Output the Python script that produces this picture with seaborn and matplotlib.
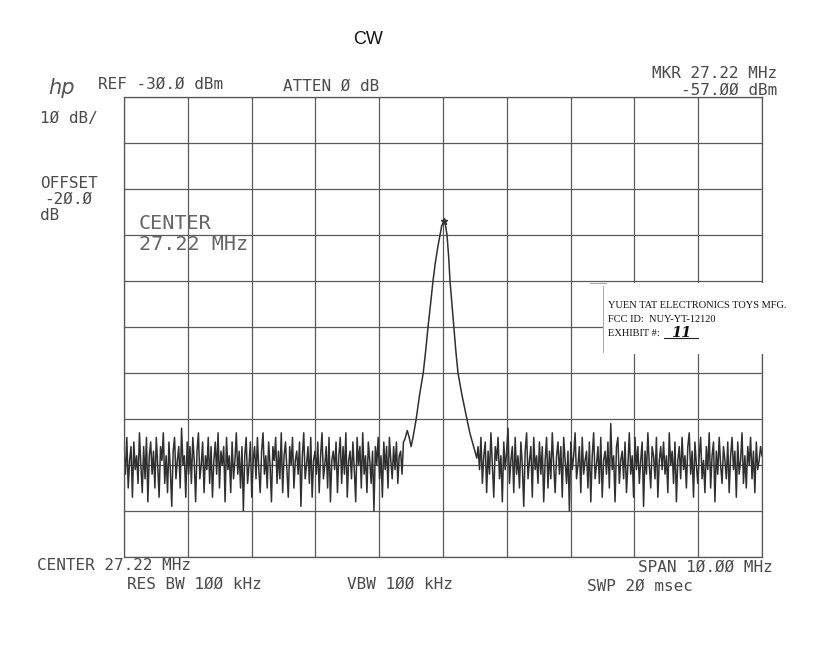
import numpy as np
import pandas as pd
import matplotlib
matplotlib.use("Agg")
import matplotlib.pyplot as plt
from matplotlib.patches import Rectangle
import seaborn as sns

# ---------------- data ----------------
center_mhz = 27.22
span_mhz = 10.0
ref_dbm = -30.0
db_per_div = 10.0

noise_left_dbm = [
    -107,-112,-104,-115,-109,-106,-117,-105,-111,-108,
    -114,-103,-110,-116,-106,-113,-104,-118,-108,-105,
    -112,-107,-115,-104,-110,-117,-106,-109,-103,-114,
    -108,-116,-105,-111,-119,-107,-104,-113,-109,-106,
    -115,-102,-110,-108,-117,-105,-112,-106,-114,-104,
    -109,-118,-107,-103,-113,-110,-105,-116,-108,-111,
    -104,-114,-106,-117,-109,-105,-112,-103,-115,-107,
    -110,-106,-118,-104,-111,-108,-116,-105,-113,-109,
    -103,-112,-107,-115,-106,-120,-108,-104,-114,-110,
    -105,-117,-109,-106,-113,-104,-111,-116,-107,-103,
    -112,-108,-115,-105,-110,-118,-106,-109,-104,-114,
    -107,-113,-103,-116,-108,-105,-111,-117,-106,-110,
    -104,-115,-109,-107,-112,-105,-119,-108,-103,-113,
    -110,-106,-114,-104,-117,-109,-107,-112,-105,-116,
    -108,-103,-113,-110,-106,-115,-104,-118,-109,-107,
    -111,-105,-116,-108,-104,-114,-106,-112,-103,-117,
    -109,-107,-113,-105,-111,-118,-104,-110,-106,-115,
    -103,-112,-108,-116,-105,-109,-114,-107,-120,-106,
    -110,-104,-113,-108,-117,-105,-111,-106,-115,-104,
    -109,-113,-106,-111,-105,-114,-108,-107,-112,-105,
]
noise_right_dbm = [
    -106,-111,-104,-114,-108,-105,-116,-107,-112,-103,
    -110,-117,-106,-109,-104,-113,-108,-118,-105,-111,
    -107,-102,-114,-109,-106,-116,-104,-112,-108,-115,
    -105,-110,-119,-107,-103,-113,-109,-106,-117,-104,
    -111,-108,-114,-105,-112,-106,-118,-109,-104,-115,
    -107,-113,-103,-110,-116,-108,-105,-112,-106,-117,
    -104,-109,-114,-107,-120,-105,-111,-108,-103,-113,
    -110,-106,-116,-104,-112,-109,-107,-115,-105,-118,
    -108,-103,-113,-110,-106,-114,-104,-117,-109,-107,
    -112,-105,-115,-101,-111,-108,-118,-106,-104,-114,
    -109,-107,-113,-105,-116,-110,-103,-112,-108,-117,
    -104,-111,-106,-114,-109,-105,-119,-107,-112,-103,
    -110,-115,-106,-108,-113,-104,-117,-109,-106,-111,
    -105,-112,-108,-116,-103,-110,-107,-114,-105,-118,
    -109,-106,-113,-104,-111,-108,-115,-106,-103,-112,
    -107,-117,-105,-110,-114,-108,-104,-113,-109,-116,
    -106,-111,-103,-115,-108,-105,-118,-107,-112,-104,
    -110,-114,-106,-109,-113,-105,-116,-108,-104,-111,
    -107,-117,-105,-112,-109,-103,-114,-108,-115,-106,
    -110,-104,-113,-107,-116,-105,-111,-109,-106,-108,
]
peak_offset_mhz = [-0.60, -0.56, -0.53, -0.50, -0.47, -0.42, -0.37, -0.31,
                   -0.27, -0.235, -0.195, -0.157, -0.12, -0.08, -0.047, -0.02,
                   0.016, 0.04, 0.063, 0.09, 0.11, 0.14, 0.17, 0.20, 0.235,
                   0.30, 0.376, 0.42, 0.47, 0.50, 0.53]
peak_dbm = [-104.5, -102.5, -104.0, -106.0, -104.0, -100.0, -95.0, -90.0,
            -85.0, -80.0, -75.0, -70.0, -66.0, -62.5, -60.0, -58.0,
            -57.0, -58.0, -60.0, -65.0, -70.0, -75.0, -80.0, -85.0, -90.0,
            -95.0, -100.0, -103.0, -105.5, -107.0, -108.5]
noise_left_range = (22.22, 26.60)
noise_right_range = (27.77, 32.22)

f_left = np.linspace(noise_left_range[0], noise_left_range[1], len(noise_left_dbm))
f_right = np.linspace(noise_right_range[0], noise_right_range[1], len(noise_right_dbm))
f_peak = center_mhz + np.array(peak_offset_mhz)

df = pd.DataFrame({
    "freq": np.concatenate([f_left, f_peak, f_right]),
    "level": np.concatenate([noise_left_dbm, peak_dbm, noise_right_dbm]),
})

# ---------------- figure ----------------
W, H = 819, 650
fig = plt.figure(figsize=(W / 100, H / 100), dpi=100)
fig.patch.set_facecolor("white")

def fx(x):
    return x / W

def fy(y):
    return 1 - y / H

ax_l, ax_r, ax_t, ax_b = 124, 762, 97, 557
ax = fig.add_axes([fx(ax_l), fy(ax_b), (ax_r - ax_l) / W, (ax_b - ax_t) / H])

x0 = center_mhz - span_mhz / 2
x1 = center_mhz + span_mhz / 2
y1 = ref_dbm
y0 = ref_dbm - 10 * db_per_div

sns.lineplot(data=df, x="freq", y="level", sort=False, estimator=None,
             color="#303030", linewidth=1.1, ax=ax)
ipk = int(np.argmax(peak_dbm))
ax.plot([center_mhz + peak_offset_mhz[ipk]], [peak_dbm[ipk]],
        marker="*", color="#333333", markersize=5, linestyle="none")

ax.set_xlim(x0, x1)
ax.set_ylim(y0, y1)
ax.set_xticks(np.linspace(x0, x1, 11))
ax.set_yticks(np.linspace(y0, y1, 11))
ax.grid(True, color="#5a5a5a", linewidth=0.9)
ax.set_axisbelow(True)
ax.tick_params(length=0, labelbottom=False, labelleft=False)
ax.set_xlabel("")
ax.set_ylabel("")
for s in ax.spines.values():
    s.set_color("#555555")
    s.set_linewidth(0.9)

# ---------------- texts ----------------
mono = "DejaVu Sans Mono"
tc = "#4a4a4a"
fs = 11.5
fig.text(fx(368), fy(40), "CW", fontsize=13, family="Liberation Sans",
         ha="center", va="center", color="#111111")
fig.text(fx(62), fy(88), "hp", fontsize=15, family="DejaVu Sans", style="italic",
         ha="center", va="center", color="#555555")
fig.text(fx(98), fy(84), "REF -3Ø.Ø dBm", fontsize=fs, family=mono, ha="left", va="center", color=tc)
fig.text(fx(283), fy(86), "ATTEN Ø dB", fontsize=fs, family=mono, ha="left", va="center", color=tc)
fig.text(fx(777), fy(73), "MKR 27.22 MHz", fontsize=fs, family=mono, ha="right", va="center", color=tc)
fig.text(fx(777), fy(90), "-57.ØØ dBm", fontsize=fs, family=mono, ha="right", va="center", color=tc)
fig.text(fx(40), fy(118), "1Ø dB/", fontsize=fs, family=mono, ha="left", va="center", color=tc)
fig.text(fx(40), fy(183), "OFFSET", fontsize=fs, family=mono, ha="left", va="center", color=tc)
fig.text(fx(44), fy(199), "-2Ø.Ø", fontsize=fs, family=mono, ha="left", va="center", color=tc)
fig.text(fx(40), fy(216), "dB", fontsize=fs, family=mono, ha="left", va="center", color=tc)
fig.text(fx(139), fy(224), "CENTER", fontsize=14.5, family=mono, ha="left", va="center", color="#666666")
fig.text(fx(139), fy(245), "27.22 MHz", fontsize=14.5, family=mono, ha="left", va="center", color="#666666")
fig.text(fx(37), fy(566), "CENTER 27.22 MHz", fontsize=fs, family=mono, ha="left", va="center", color=tc)
fig.text(fx(127), fy(584), "RES BW 1ØØ kHz", fontsize=fs, family=mono, ha="left", va="center", color=tc)
fig.text(fx(347), fy(584), "VBW 1ØØ kHz", fontsize=fs, family=mono, ha="left", va="center", color=tc)
fig.text(fx(773), fy(567), "SPAN 1Ø.ØØ MHz", fontsize=fs, family=mono, ha="right", va="center", color=tc)
fig.text(fx(587), fy(586), "SWP 2Ø msec", fontsize=fs, family=mono, ha="left", va="center", color=tc)

# ---------------- exhibit sticker ----------------
sticker = Rectangle((fx(603), fy(354)), (812 - 603) / W, (354 - 283) / H,
                    transform=fig.transFigure, facecolor="white",
                    edgecolor="none", zorder=5)
fig.patches.append(sticker)
fig.add_artist(plt.Line2D([fx(603), fx(603)], [fy(286), fy(352)],
                          transform=fig.transFigure, color="#aaaaaa", lw=0.8, zorder=6))
fig.add_artist(plt.Line2D([fx(590), fx(606)], [fy(283), fy(283)],
                          transform=fig.transFigure, color="#aaaaaa", lw=0.8, zorder=6))
serif = "Liberation Serif"
fig.text(fx(608), fy(305), "YUEN TAT ELECTRONICS TOYS MFG.", fontsize=7.5, family=serif,
         ha="left", va="center", color="#111111", zorder=7)
fig.text(fx(608), fy(319), "FCC ID:  NUY-YT-12120", fontsize=7.5, family=serif,
         ha="left", va="center", color="#111111", zorder=7)
fig.text(fx(608), fy(334), "EXHIBIT #:", fontsize=7.5, family=serif,
         ha="left", va="center", color="#111111", zorder=7)
fig.add_artist(plt.Line2D([fx(664), fx(698)], [fy(338), fy(338)],
                          transform=fig.transFigure, color="#222222", lw=0.8, zorder=7))
fig.text(fx(681), fy(333), "11", fontsize=10.5, family="DejaVu Serif", style="italic",
         weight="bold", ha="center", va="center", color="#111111", zorder=8)

fig.savefig("out.png", dpi=100, facecolor="white")
